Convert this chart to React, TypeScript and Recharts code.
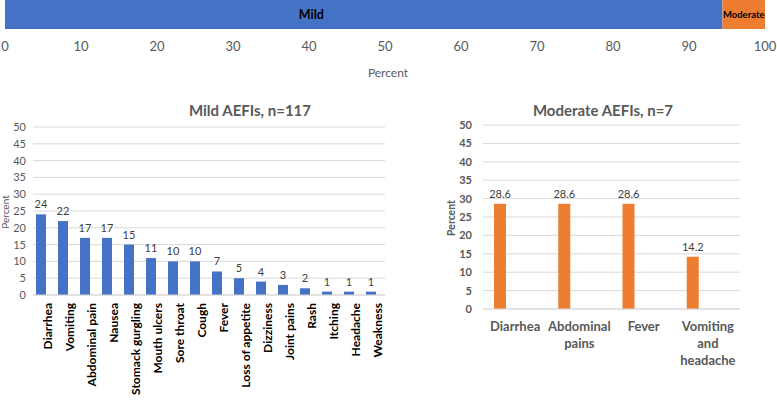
import React from 'react';
import { BarChart, Bar, XAxis, YAxis, CartesianGrid, LabelList, Label } from 'recharts';

const FONT = "Lato, 'Open Sans', sans-serif";

// Top stacked bar: severity split
const severityNames = ['Mild', 'Moderate'];
const severityValues = [94.4, 5.6];
const percentTicks = [0, 10, 20, 30, 40, 50, 60, 70, 80, 90, 100];

// Mild AEFIs
const mildCategories = [
  'Diarrhea', 'Vomiting', 'Abdominal pain', 'Nausea', 'Stomack gurgling', 'Mouth ulcers',
  'Sore throat', 'Cough', 'Fever', 'Loss of appetite', 'Dizziness', 'Joint pains', 'Rash',
  'Itching', 'Headache', 'Weakness',
];
const mildValues = [24, 22, 17, 17, 15, 11, 10, 10, 7, 5, 4, 3, 2, 1, 1, 1];

// Moderate AEFIs
const moderateCategories = ['Diarrhea', 'Abdominal pains', 'Fever', 'Vomiting and headache'];
const moderateValues = [28.6, 28.6, 28.6, 14.2];

const countTicks = [0, 5, 10, 15, 20, 25, 30, 35, 40, 45, 50];

const topData = [{ name: 'AEFI', mild: severityValues[0], moderate: severityValues[1] }];
const mildData = mildCategories.map((name, i) => ({ name, value: mildValues[i] }));
const moderateData = moderateCategories.map((name, i) => ({ name, value: moderateValues[i] }));

const BLUE = '#4472C4';
const ORANGE = '#ED7D31';
const GRID = '#D9D9D9';
const GREY = '#595959';

const shifted = (dx: number) => (props: any) => (
  <rect x={props.x + dx} y={props.y} width={props.width} height={props.height} fill={props.fill} />
);

const valueLabel = (dx: number, size: number) => (props: any) => {
  const { x, y, width, value } = props;
  return (
    <text x={x + width / 2 + dx} y={y - 6} textAnchor="middle" fontSize={size} fill="#404040" fontFamily={FONT}>
      {value}
    </text>
  );
};

const MildTick = (props: any) => {
  const { x, y, payload } = props;
  const ax = x + 3;
  return (
    <text
      x={ax}
      y={y}
      transform={`rotate(-90 ${ax} ${y})`}
      textAnchor="end"
      dominantBaseline="central"
      fontSize={12}
      fontWeight="bold"
      fill="#000"
      fontFamily={FONT}
    >
      {payload.value}
    </text>
  );
};

const ModerateTick = (props: any) => {
  const { x, y, payload } = props;
  const words = String(payload.value).split(' ');
  return (
    <text x={x} y={y} textAnchor="middle" fontSize={13} fontWeight="bold" fill={GREY} fontFamily={FONT}>
      {words.map((w, i) => (
        <tspan key={i} x={x} dy={i === 0 ? 14 : 17}>
          {w}
        </tspan>
      ))}
    </text>
  );
};

export default function App() {
  return (
    <div style={{ position: 'absolute', left: 0, top: 0, width: 777, height: 403, background: '#fff', fontFamily: FONT }}>
      {/* Top stacked bar */}
      <div style={{ position: 'absolute', left: 0, top: 0 }}>
        <BarChart
          width={777}
          height={85}
          data={topData}
          layout="vertical"
          margin={{ top: 0, right: 12, left: 5, bottom: 0 }}
          barCategoryGap={0}
        >
          <YAxis type="category" dataKey="name" hide />
          <XAxis
            type="number"
            domain={[0, 100]}
            ticks={percentTicks}
            interval={0}
            axisLine={false}
            tickLine={false}
            tickMargin={7}
            height={56}
            tick={{ fontSize: 13, fill: GREY, fontFamily: FONT }}
          >
            <Label
              content={(p: any) => {
                const vb = p.viewBox || {};
                return (
                  <text
                    x={vb.x + vb.width / 2 + 3}
                    y={vb.y + 43}
                    textAnchor="middle"
                    dominantBaseline="central"
                    fontSize={12}
                    fill={GREY}
                    fontFamily={FONT}
                  >
                    Percent
                  </text>
                );
              }}
            />
          </XAxis>
          <Bar dataKey="mild" stackId="a" fill={BLUE} isAnimationActive={false}>
            <LabelList
              dataKey="mild"
              content={(p: any) => (
                <text
                  x={p.x + p.width * 0.427}
                  y={p.y + p.height / 2}
                  textAnchor="middle"
                  dominantBaseline="central"
                  fontSize={12.5}
                  fontWeight="bold"
                  fill="#000"
                  fontFamily={FONT}
                >
                  {severityNames[0]}
                </text>
              )}
            />
          </Bar>
          <Bar dataKey="moderate" stackId="a" fill={ORANGE} isAnimationActive={false}>
            <LabelList
              dataKey="moderate"
              content={(p: any) => (
                <text
                  x={p.x + p.width / 2}
                  y={p.y + p.height / 2}
                  textAnchor="middle"
                  dominantBaseline="central"
                  fontSize={9.5}
                  fontWeight="bold"
                  fill="#000"
                  fontFamily={FONT}
                >
                  {severityNames[1]}
                </text>
              )}
            />
          </Bar>
        </BarChart>
      </div>

      {/* Mild AEFIs */}
      <div
        style={{
          position: 'absolute', left: 130, top: 100, width: 240, lineHeight: '20px', textAlign: 'center',
          fontSize: 15, fontWeight: 'bold', color: GREY,
        }}
      >
        Mild AEFIs, n=117
      </div>
      <div style={{ position: 'absolute', left: 0, top: 95 }}>
        <BarChart
          width={400}
          height={308}
          data={mildData}
          margin={{ top: 32, right: 15, left: 0, bottom: 0 }}
          barSize={10}
        >
          <CartesianGrid vertical={false} stroke={GRID} />
          <XAxis
            dataKey="name"
            interval={0}
            height={108}
            tickLine={false}
            axisLine={{ stroke: GRID }}
            tick={<MildTick />}
          />
          <YAxis
            width={33}
            domain={[0, 50]}
            ticks={countTicks}
            interval={0}
            axisLine={false}
            tickLine={false}
            tickMargin={1}
            tick={{ fontSize: 11, fill: GREY, fontFamily: FONT }}
          >
            <Label
              content={(p: any) => {
                const vb = p.viewBox || {};
                const lx = 5;
                const ly = vb.y + vb.height / 2 + 1;
                return (
                  <text
                    x={lx}
                    y={ly}
                    transform={`rotate(-90 ${lx} ${ly})`}
                    textAnchor="middle"
                    dominantBaseline="central"
                    fontSize={10}
                    fill={GREY}
                    fontFamily={FONT}
                  >
                    Percent
                  </text>
                );
              }}
            />
          </YAxis>
          <Bar dataKey="value" fill={BLUE} isAnimationActive={false} shape={shifted(-3)}>
            <LabelList dataKey="value" content={valueLabel(-3, 11)} />
          </Bar>
        </BarChart>
      </div>

      {/* Moderate AEFIs */}
      <div
        style={{
          position: 'absolute', left: 483, top: 100, width: 240, lineHeight: '20px', textAlign: 'center',
          fontSize: 15, fontWeight: 'bold', color: GREY,
        }}
      >
        Moderate AEFIs, n=7
      </div>
      <div style={{ position: 'absolute', left: 430, top: 95 }}>
        <BarChart
          width={347}
          height={308}
          data={moderateData}
          margin={{ top: 30, right: 37, left: 0, bottom: 0 }}
          barSize={12}
        >
          <CartesianGrid vertical={false} stroke={GRID} />
          <XAxis
            dataKey="name"
            interval={0}
            height={94}
            tickLine={false}
            axisLine={{ stroke: GRID }}
            tick={<ModerateTick />}
          />
          <YAxis
            width={53}
            domain={[0, 50]}
            ticks={countTicks}
            interval={0}
            axisLine={false}
            tickLine={false}
            tickMargin={5}
            tick={{ fontSize: 11, fill: GREY, fontWeight: 'bold', fontFamily: FONT }}
          >
            <Label
              content={(p: any) => {
                const vb = p.viewBox || {};
                const lx = 21;
                const ly = vb.y + vb.height / 2 + 1;
                return (
                  <text
                    x={lx}
                    y={ly}
                    transform={`rotate(-90 ${lx} ${ly})`}
                    textAnchor="middle"
                    dominantBaseline="central"
                    fontSize={10.5}
                    fontWeight="bold"
                    fill={GREY}
                    fontFamily={FONT}
                  >
                    Percent
                  </text>
                );
              }}
            />
          </YAxis>
          <Bar dataKey="value" fill={ORANGE} isAnimationActive={false} shape={shifted(-15)}>
            <LabelList dataKey="value" content={valueLabel(-15, 11)} />
          </Bar>
        </BarChart>
      </div>
    </div>
  );
}
